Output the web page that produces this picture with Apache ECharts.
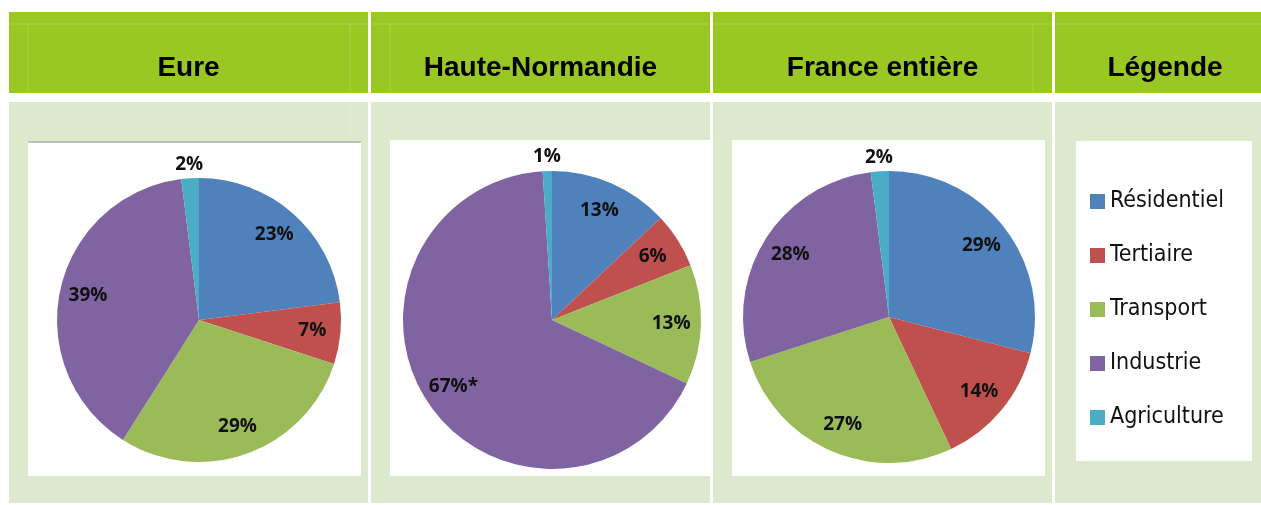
<!DOCTYPE html>
<html>
<head>
<meta charset="utf-8">
<script src="https://cdn.jsdelivr.net/npm/echarts@6/dist/echarts.min.js"></script>
<style>
  html, body { margin: 0; padding: 0; background: #fff; }
  #main { width: 1261px; height: 505px; }
</style>
</head>
<body>
<div id="main"></div>
<script>
// categories & values (percent)
const categories = ['Résidentiel', 'Tertiaire', 'Transport', 'Industrie', 'Agriculture'];
const colors = ['#4f81bd', '#c0504d', '#9bbb59', '#8064a2', '#4bacc6'];
const regions = ['Eure', 'Haute-Normandie', 'France entière'];
const eureValues = [23, 7, 29, 39, 2];
const hnValues = [13, 6, 13, 67, 1];
const franceValues = [29, 14, 27, 28, 2];
const hnSuffix = ['', '', '', '*', ''];  // 67%* in Haute-Normandie

// layout of the table cells and the pies
const cols = [[9, 359], [371, 339], [713, 339], [1055, 206]];
const headerCenters = [188.5, 540.5, 882.5, 1165];
const pies = [
  { values: eureValues, center: [199, 320], r: 142, suffix: null },
  { values: hnValues, center: [552, 320], r: 149, suffix: hnSuffix },
  { values: franceValues, center: [889, 317], r: 146, suffix: null }
];

const labelFont = '"Open Sans", "Liberation Sans", sans-serif';

const graphic = [];
cols.forEach(function (c) {
  graphic.push({ type: 'rect', shape: { x: c[0], y: 12, width: c[1], height: 81 }, style: { fill: '#99c723' }, z: 0 });
  graphic.push({ type: 'line', shape: { x1: c[0], y1: 24, x2: c[0] + c[1], y2: 24 }, style: { stroke: 'rgba(255,255,255,0.18)', lineWidth: 1 }, z: 1 });
  graphic.push({ type: 'rect', shape: { x: c[0], y: 102, width: c[1], height: 401 }, style: { fill: '#dde9cd' }, z: 0 });
});
// faint inner cell lines
[[28, 24, 93], [350, 24, 93], [390, 24, 93], [1033, 24, 93], [350, 102, 140]].forEach(function (l) {
  graphic.push({ type: 'line', shape: { x1: l[0], y1: l[1], x2: l[0], y2: l[2] }, style: { stroke: 'rgba(255,255,255,0.18)', lineWidth: 1 }, z: 1 });
});
// white panels
[[28, 142, 333, 334], [390, 140, 320, 336], [732, 140, 313, 336], [1076, 141, 176, 320]].forEach(function (b) {
  graphic.push({ type: 'rect', shape: { x: b[0], y: b[1], width: b[2], height: b[3] }, style: { fill: '#ffffff' }, z: 2 });
});
graphic.push({ type: 'line', shape: { x1: 28, y1: 142, x2: 361, y2: 142 }, style: { stroke: '#8f8f8f', lineWidth: 1.2 }, z: 3 });
// header titles
regions.concat(['Légende']).forEach(function (t, i) {
  graphic.push({
    type: 'text', x: headerCenters[i], y: 68, z: 5,
    style: { text: t, align: 'center', verticalAlign: 'middle', fill: '#000', font: 'bold 28px "Liberation Sans", Arial, sans-serif' }
  });
});

function labelStyle(p) {
  return {
    show: true,
    position: 'inside',
    color: '#111',
    fontWeight: 'bold',
    fontSize: 19,
    fontFamily: labelFont,
    formatter: function (params) {
      return params.value + '%' + (p.suffix ? p.suffix[params.dataIndex] : '');
    }
  };
}

const series = [];
pies.forEach(function (p) {
  const data = categories.map(function (name, i) {
    return { name: name, value: p.values[i] };
  });
  series.push({
    type: 'pie',
    center: p.center,
    radius: [0, p.r],
    startAngle: 90,
    clockwise: true,
    silent: true,
    z: 3,
    label: { show: false },
    labelLine: { show: false },
    itemStyle: { borderWidth: 0 },
    data: data
  });
  // label-only ring so inside labels sit near 0.78 r
  series.push({
    type: 'pie',
    center: p.center,
    radius: [p.r * 0.56, p.r],
    startAngle: 90,
    clockwise: true,
    silent: true,
    z: 4,
    avoidLabelOverlap: false,
    itemStyle: { color: 'rgba(0,0,0,0)', borderWidth: 0 },
    labelLine: { show: false },
    label: labelStyle(p),
    data: data.map(function (d) {
      return { name: d.name, value: d.value, label: { show: d.value > 2 } };
    })
  });
  // ring just outside the pie for the tiny slices
  series.push({
    type: 'pie',
    center: p.center,
    radius: [p.r, p.r + 22],
    startAngle: 90,
    clockwise: true,
    silent: true,
    z: 4,
    avoidLabelOverlap: false,
    itemStyle: { color: 'rgba(0,0,0,0)', borderWidth: 0 },
    labelLine: { show: false },
    label: labelStyle(p),
    data: data.map(function (d) {
      return { name: d.name, value: d.value, label: { show: d.value <= 2 } };
    })
  });
});

const chart = echarts.init(document.getElementById('main'));
chart.setOption({
  animation: false,
  backgroundColor: '#ffffff',
  color: colors,
  graphic: graphic,
  legend: {
    data: categories,
    orient: 'vertical',
    left: 1085,
    top: 185,
    icon: 'rect',
    itemWidth: 15,
    itemHeight: 15,
    itemGap: 31,
    selectedMode: false,
    textStyle: { fontSize: 23, color: '#111', fontFamily: '"Liberation Sans Narrow", "DejaVu Sans Condensed", sans-serif' }
  },
  series: series
});
</script>
</body>
</html>
